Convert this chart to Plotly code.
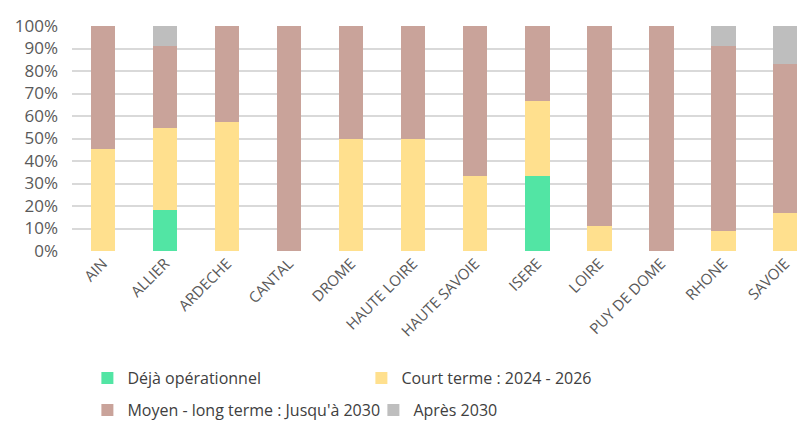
import plotly.graph_objects as go

categories = ["AIN", "ALLIER", "ARDECHE", "CANTAL", "DROME", "HAUTE LOIRE",
              "HAUTE SAVOIE", "ISERE", "LOIRE", "PUY DE DOME", "RHONE", "SAVOIE"]

deja_operationnel = [0, 18.18, 0, 0, 0, 0, 0, 33.33, 0, 0, 0, 0]
court_terme = [45.45, 36.36, 57.14, 0, 50, 50, 33.33, 33.33, 11.11, 0, 9.09, 16.67]
moyen_long_terme = [54.55, 36.36, 42.86, 100, 50, 50, 66.67, 33.34, 88.89, 100, 81.82, 66.66]
apres_2030 = [0, 9.10, 0, 0, 0, 0, 0, 0, 0, 0, 9.09, 16.67]

y_ticks = [0, 10, 20, 30, 40, 50, 60, 70, 80, 90, 100]

series = [
    ("Déjà opérationnel", deja_operationnel, "#52E5A4", "legend"),
    ("Court terme : 2024 - 2026", court_terme, "#FFE08E", "legend"),
    ("Moyen - long terme : Jusqu'à 2030", moyen_long_terme, "#C9A39A", "legend2"),
    ("Après 2030", apres_2030, "#BEBEBE", "legend2"),
]

fig = go.Figure()
for name, vals, color, leg in series:
    fig.add_trace(go.Bar(
        x=categories, y=vals, name=name, marker=dict(color=color, line=dict(width=0)),
        width=0.4, legend=leg, hoverinfo="x+y+name",
    ))

W, H = 797, 414  # page body adds an 8px offset inside the 805x422 window

font_family = "'Open Sans', Lato, sans-serif"
legend_common = dict(
    orientation="h", xref="paper", yref="container", x=0.021, xanchor="left",
    yanchor="middle", font=dict(family=font_family, size=16, color="#404040"),
    itemwidth=30, entrywidthmode="pixels", bgcolor="rgba(0,0,0,0)",
    traceorder="normal",
)

fig.update_layout(
    width=W, height=H,
    margin=dict(l=64, r=0, t=18, b=171, autoexpand=False),
    paper_bgcolor="white", plot_bgcolor="white",
    barmode="stack",
    font=dict(family=font_family, color="#595959"),
    xaxis=dict(
        type="category", range=[-0.5, 11.32], tickangle=-45,
        tickfont=dict(size=15, color="#595959"), showgrid=False,
        showline=False, ticks="", zeroline=False,
    ),
    yaxis=dict(
        range=[0, 100], tickvals=y_ticks, ticktext=[f"{v}%" for v in y_ticks],
        tickfont=dict(size=17, color="#595959"), showgrid=True, gridcolor="#D9D9D9",
        gridwidth=1.5, zeroline=False, showline=False, ticks="", ticklabelstandoff=13,
    ),
    legend=dict(legend_common, y=(H - 370) / H, entrywidth=229),
    legend2=dict(legend_common, y=(H - 402) / H, entrywidth=241),
    showlegend=True,
)

fig.write_html("out.html")
